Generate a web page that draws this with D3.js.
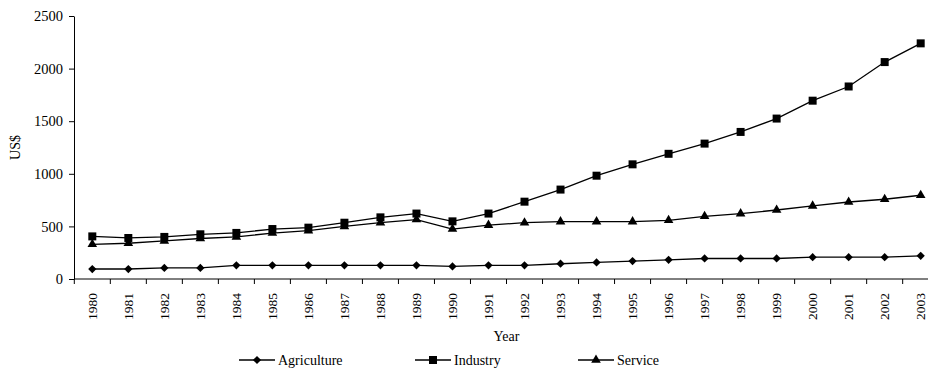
<!DOCTYPE html>
<html>
<head>
<meta charset="utf-8">
<script src="https://cdn.jsdelivr.net/npm/d3@7"></script>
<style>
  html, body { margin: 0; padding: 0; background: #fff; }
  svg { display: block; }
</style>
</head>
<body>
<svg id="chart" width="928" height="369"></svg>
<script>
// GDP per capita by sector, 1980-2003 (US$)
const years = ["1980","1981","1982","1983","1984","1985","1986","1987","1988","1989","1990","1991",
               "1992","1993","1994","1995","1996","1997","1998","1999","2000","2001","2002","2003"];
const agriculture = [95, 95, 105, 105, 130, 130, 130, 130, 130, 130, 120, 130,
                     130, 145, 158, 170, 182, 195, 195, 195, 207, 207, 207, 220];
const industry = [405, 390, 400, 425, 438, 475, 488, 535, 586, 622, 548, 622,
                  735, 850, 982, 1090, 1190, 1287, 1398, 1525, 1695, 1830, 2062, 2240];
const service = [330, 340, 362, 385, 400, 437, 460, 500, 535, 565, 475, 512,
                 535, 545, 545, 545, 558, 596, 621, 656, 695, 732, 758, 796];
const seriesNames = ["Agriculture", "Industry", "Service"];
const yTicks = [0, 500, 1000, 1500, 2000, 2500];

const FONT = "'Liberation Serif', 'Times New Roman', Times, serif";
const svg = d3.select("#chart").attr("font-family", FONT);

const x = d3.scaleBand().domain(years).range([74.3, 938.7]).padding(0);
const y = d3.scaleLinear().domain([0, 2500]).range([279, 16]);
const cx = d => x(d) + x.bandwidth() / 2;

const symbols = {
  Agriculture: { type: d3.symbolSquare, size: 34, rotate: 45 },
  Industry:    { type: d3.symbolSquare, size: 64, rotate: 0 },
  Service:     { type: d3.symbolTriangle, size: 40, rotate: 0 }
};
const series = [
  { name: seriesNames[0], values: agriculture },
  { name: seriesNames[1], values: industry },
  { name: seriesNames[2], values: service }
];

// Y axis
const yAxis = d3.axisLeft(y).tickValues(yTicks).tickFormat(d3.format("d"))
  .tickSize(5).tickSizeOuter(0).tickPadding(6);
const gy = svg.append("g").attr("transform", "translate(74,0)").call(yAxis);
gy.attr("font-family", FONT).attr("font-size", null);
gy.selectAll("text").style("font-family", FONT).style("font-size", "14.5px").attr("fill", "#000");
gy.selectAll("path, line").attr("stroke", "#000");

// X axis: labels centred in each band, ticks at band boundaries
const gx = svg.append("g").attr("transform", "translate(0,279)");
gx.append("line")
  .attr("x1", x.range()[0]).attr("x2", x.range()[1])
  .attr("stroke", "#000");
const boundaries = years.map(d => x(d)).concat([x.range()[1]]);
gx.selectAll("line.tick")
  .data(boundaries)
  .join("line")
  .attr("class", "tick")
  .attr("x1", d => d).attr("x2", d => d)
  .attr("y1", 0).attr("y2", 5)
  .attr("stroke", "#000");
gx.selectAll("text.year")
  .data(years)
  .join("text")
  .attr("class", "year")
  .attr("transform", d => `translate(${cx(d)},14) rotate(-90)`)
  .attr("text-anchor", "end")
  .attr("dy", "0.35em")
  .style("font-family", FONT)
  .style("font-size", "13.5px")
  .text(d => d);

// Axis titles
svg.append("text")
  .attr("x", (x.range()[0] + x.range()[1]) / 2)
  .attr("y", 341)
  .attr("text-anchor", "middle")
  .style("font-family", FONT)
  .style("font-size", "14px")
  .text("Year");
svg.append("text")
  .attr("transform", `translate(20,${(y(0) + y(2500)) / 2}) rotate(-90)`)
  .attr("text-anchor", "middle")
  .style("font-family", FONT)
  .style("font-size", "14px")
  .text("US$");

// Lines and markers
const line = d3.line().x((d, i) => cx(years[i])).y(d => y(d));
const sym = s => d3.symbol().type(symbols[s].type).size(symbols[s].size)();

series.forEach(s => {
  const g = svg.append("g");
  g.append("path")
    .datum(s.values)
    .attr("fill", "none")
    .attr("stroke", "#000")
    .attr("stroke-width", 1.3)
    .attr("d", line);
  g.selectAll("path.mark")
    .data(s.values)
    .join("path")
    .attr("class", "mark")
    .attr("d", sym(s.name))
    .attr("transform", (d, i) => `translate(${cx(years[i])},${y(d)}) rotate(${symbols[s.name].rotate})`)
    .attr("fill", "#000");
});

// Legend
const legendX = [239, 415, 578];
const legend = svg.append("g").attr("transform", "translate(0,360)");
series.forEach((s, i) => {
  const g = legend.append("g").attr("transform", `translate(${legendX[i]},0)`);
  g.append("line").attr("x1", 0).attr("x2", 36).attr("stroke", "#000").attr("stroke-width", 1.3);
  g.append("path")
    .attr("d", sym(s.name))
    .attr("transform", `translate(18,0) rotate(${symbols[s.name].rotate})`)
    .attr("fill", "#000");
  g.append("text")
    .attr("x", 39)
    .attr("dy", "0.35em")
    .style("font-family", FONT)
    .style("font-size", "14px")
    .text(s.name);
});
</script>
</body>
</html>
